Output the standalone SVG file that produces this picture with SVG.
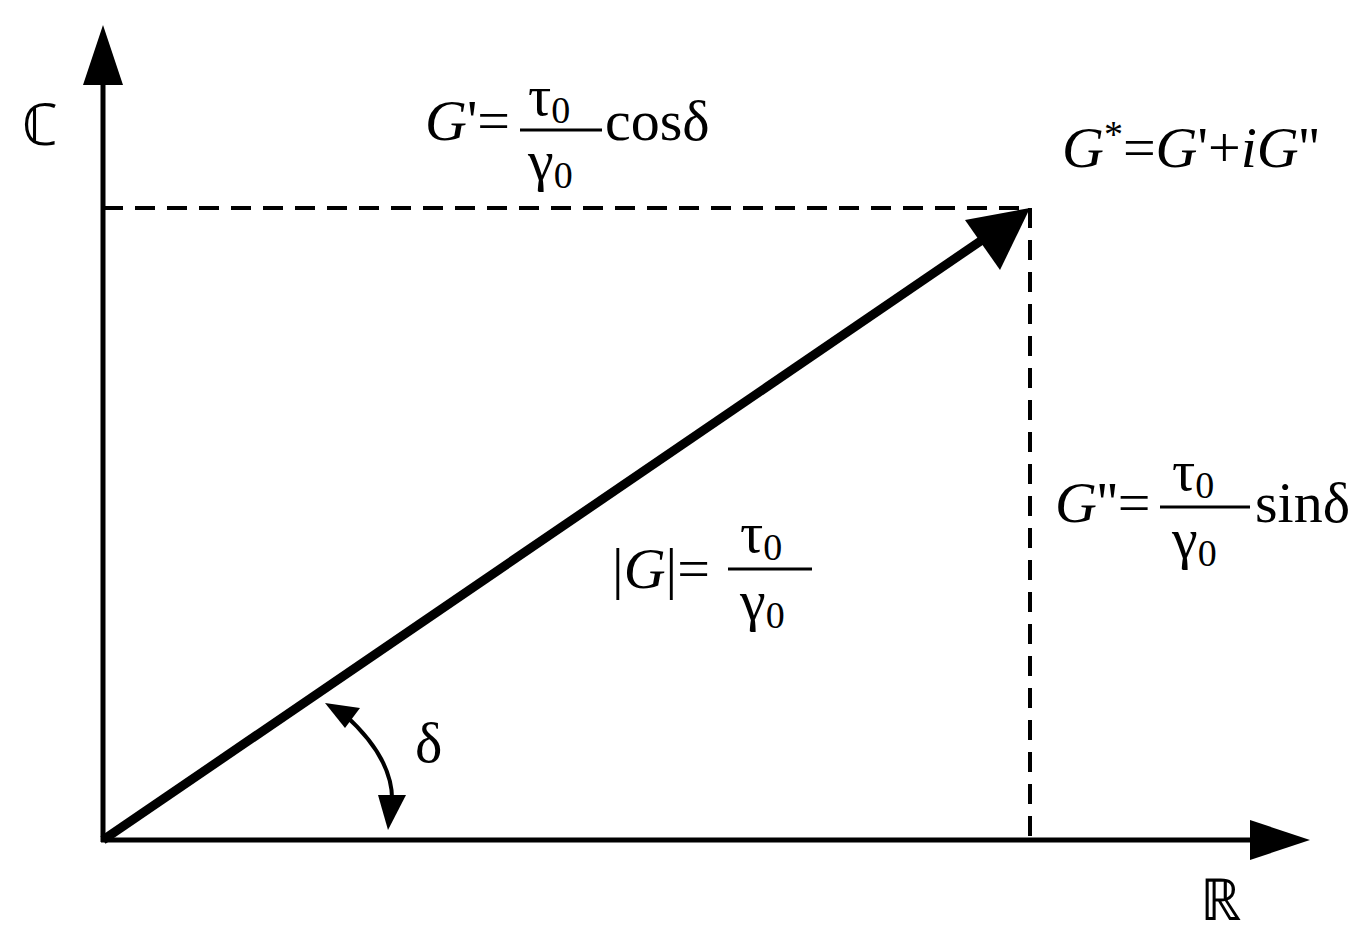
<svg xmlns="http://www.w3.org/2000/svg" width="1366" height="945" viewBox="0 0 1366 945">
<style>
text{font-family:"Liberation Serif","Times New Roman",serif;font-size:58px;fill:#000}
.i{font-style:italic}
.s{font-size:38px}
.d{stroke:#000;stroke-width:4;stroke-dasharray:20 12;fill:none}
.l{stroke:#000;stroke-width:5;fill:none}
</style>
<rect width="1366" height="945" fill="#fff"/>
<g id="connectors">
<line class="l" x1="103" y1="842" x2="103" y2="80"/>
<polygon points="103,25 83,85 123,85"/>
<line class="l" x1="101" y1="840" x2="1255" y2="840"/>
<polygon points="1310,840 1250,820 1250,860"/>
<line class="d" x1="103" y1="208" x2="1030" y2="208"/>
<line class="d" x1="1030" y1="208" x2="1030" y2="840"/>
<line x1="103" y1="840" x2="985" y2="238" stroke="#000" stroke-width="9"/>
<polygon points="1030,208 1000,270 965,220"/>
<path d="M345,715 Q395,760 392,805" stroke="#000" stroke-width="4" fill="none"/>
<polygon points="325,703 360,708 345,728"/>
<polygon points="388,830 378,795 406,795"/>
</g>
<g id="axisC"><text x="22" y="145" font-size="66">ℂ</text></g>
<g id="axisR"><text x="1200" y="920" font-size="66">ℝ</text></g>
<g id="Gprime">
<text x="425" y="140"><tspan class="i">G</tspan>'=</text>
<line x1="520" y1="130" x2="602" y2="130" stroke="#000" stroke-width="3"/>
<text x="528" y="115">τ<tspan class="s" dy="8">0</tspan></text>
<text x="528" y="180">γ<tspan class="s" dy="8">0</tspan></text>
<text x="605" y="140">cosδ</text>
</g>
<g id="Gstar"><text x="1062" y="167" font-size="62"><tspan class="i">G</tspan><tspan class="s" dy="-20">*</tspan><tspan dy="20">=</tspan><tspan class="i">G</tspan>'+<tspan class="i">iG</tspan>''</text></g>
<g id="Gdouble">
<text x="1055" y="522"><tspan class="i">G</tspan>''=</text>
<line x1="1160" y1="507" x2="1250" y2="507" stroke="#000" stroke-width="3"/>
<text x="1172" y="490">τ<tspan class="s" dy="8">0</tspan></text>
<text x="1172" y="558">γ<tspan class="s" dy="8">0</tspan></text>
<text x="1255" y="522">sinδ</text>
</g>
<g id="Gabs">
<text x="612" y="588">|<tspan class="i">G</tspan>|=</text>
<line x1="728" y1="569" x2="812" y2="569" stroke="#000" stroke-width="3"/>
<text x="740" y="552">τ<tspan class="s" dy="8">0</tspan></text>
<text x="740" y="620">γ<tspan class="s" dy="8">0</tspan></text>
</g>
<g id="delta"><text x="415" y="762">δ</text></g>
</svg>
